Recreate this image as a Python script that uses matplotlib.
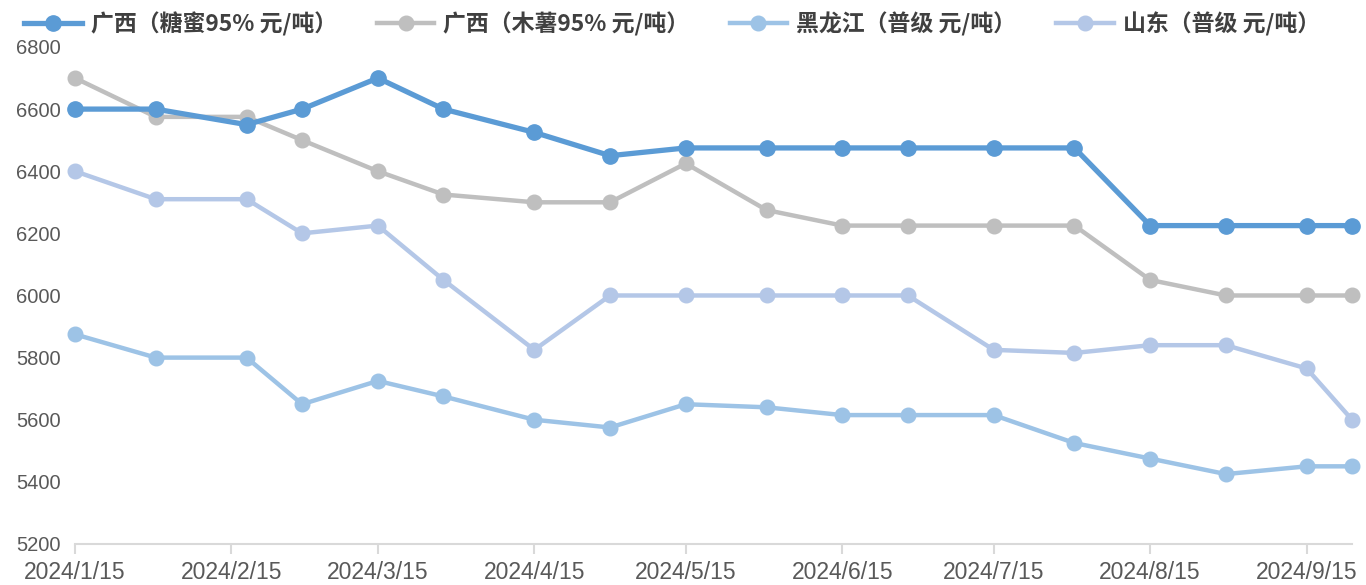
import pandas as pd
import matplotlib
matplotlib.use("Agg")
import matplotlib.pyplot as plt

# data
dates = pd.to_datetime([
    "2024-01-15", "2024-01-31", "2024-02-18", "2024-02-29", "2024-03-15",
    "2024-03-28", "2024-04-15", "2024-04-30", "2024-05-15", "2024-05-31",
    "2024-06-15", "2024-06-28", "2024-07-15", "2024-07-31", "2024-08-15",
    "2024-08-30", "2024-09-15", "2024-09-24",
])
gx_molasses = [6600, 6600, 6550, 6600, 6700, 6600, 6525, 6450, 6475, 6475,
               6475, 6475, 6475, 6475, 6225, 6225, 6225, 6225]
gx_cassava = [6700, 6575, 6575, 6500, 6400, 6325, 6300, 6300, 6425, 6275,
              6225, 6225, 6225, 6225, 6050, 6000, 6000, 6000]
heilongjiang = [5875, 5800, 5800, 5650, 5725, 5675, 5600, 5575, 5650, 5640,
                5615, 5615, 5615, 5525, 5475, 5425, 5450, 5450]
shandong = [6400, 6310, 6310, 6200, 6225, 6050, 5825, 6000, 6000, 6000,
            6000, 6000, 5825, 5815, 5840, 5840, 5765, 5600]

labels = ["广西（糖蜜95% 元/吨）", "广西（木薯95% 元/吨）",
          "黑龙江（普级 元/吨）", "山东（普级 元/吨）"]
colors = ["#5B9BD5", "#BFBFBF", "#9DC3E6", "#B4C7E7"]
series = [gx_molasses, gx_cassava, heilongjiang, shandong]
widths = [3.8, 3.2, 3.2, 3.2]
msizes = [11, 10.5, 10.5, 10.5]

tick_dates = pd.to_datetime(["2024-%02d-15" % m for m in range(1, 10)])
tick_labels = ["2024/%d/15" % m for m in range(1, 10)]

fig = plt.figure(figsize=(13.66, 5.85), dpi=100)
ax = fig.add_axes([0.0549, 0.0701, 0.9349, 0.8496])

# draw in reverse so the first series sits on top
for vals, c, lab, lw, ms in reversed(list(zip(series, colors, labels, widths, msizes))):
    ax.plot(dates, vals, color=c, lw=lw, marker="o", markersize=ms,
            label=lab, clip_on=False, solid_joinstyle="round")

ax.set_xlim(dates[0], dates[-1])
ax.set_ylim(5200, 6800)
ax.set_yticks(range(5200, 6801, 200))
ax.set_xticks(tick_dates)
ax.set_xticklabels(tick_labels)

for s in ["top", "right", "left"]:
    ax.spines[s].set_visible(False)
ax.spines["bottom"].set_color("#D9D9D9")
ax.spines["bottom"].set_linewidth(1.5)
ax.tick_params(axis="x", length=7, width=1.5, color="#D9D9D9", pad=5,
               labelsize=16.5, labelcolor="#595959")
ax.tick_params(axis="y", length=0, pad=10, labelsize=14.5, labelcolor="#595959")
for t in ax.get_xticklabels() + ax.get_yticklabels():
    t.set_family(["Liberation Sans Narrow", "Liberation Sans"])

handles, labs = ax.get_legend_handles_labels()
fig.legend(handles[::-1], labs[::-1], loc="upper center",
           bbox_to_anchor=(0.492, 1.015), ncol=4, frameon=False,
           handlelength=2.5, columnspacing=1.75, handletextpad=0.4,
           prop={"family": ["Noto Sans CJK SC", "DejaVu Sans"], "size": 16.5,
                 "weight": "bold"},
           labelcolor="#404040")

fig.savefig("out.png", dpi=100)
